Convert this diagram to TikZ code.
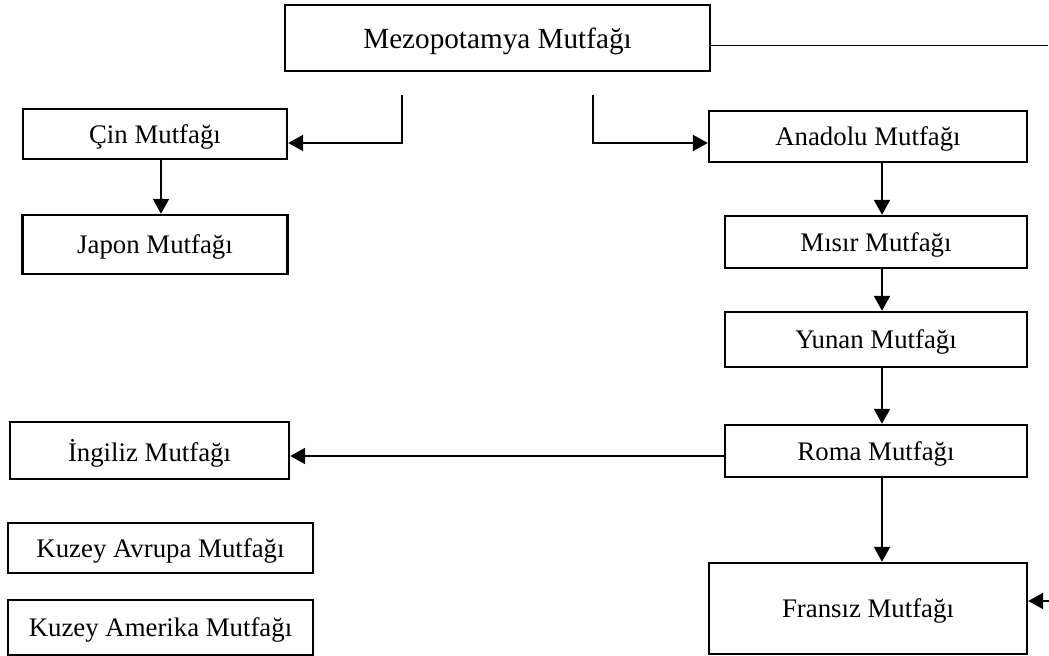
\documentclass[tikz,border=0pt]{standalone}
\usepackage{fontspec}
\setmainfont{Liberation Serif}
\usepackage{tikz}
\usetikzlibrary{arrows.meta, positioning, calc}

\tikzset{
  mutfak/.style={draw, line width=1.2pt, minimum width=#1, align=center, inner sep=0pt, text depth=0pt, font=\fontsize{13.4pt}{16pt}\selectfont},
  akis/.style={line width=1.1pt, -{Triangle[length=7.5pt, width=8pt]}},
}

\begin{document}
\begin{tikzpicture}[x=0.5pt, y=-0.5pt]
  \useasboundingbox (0,0) rectangle (1049,656);

  \node[mutfak=212.5pt, minimum height=33pt, font=\fontsize{14.6pt}{17pt}\selectfont] (Mezopotamya) at (497.5,38) {Mezopotamya Mutfağı};

  \node[mutfak=132pt, minimum height=25pt] (Cin) at (155,134) {Çin Mutfağı};
  \node[mutfak=132.5pt, minimum height=29.5pt] (Japon) at (155,244.5) {Japon Mutfağı};

  \node[mutfak=159pt, minimum height=25.5pt] (Anadolu) at (868,136.5) {Anadolu Mutfağı};
  \node[mutfak=151pt, minimum height=26pt] (Misir) at (876,242) {Mısır Mutfağı};
  \node[mutfak=151pt, minimum height=27.5pt] (Yunan) at (876,339.5) {Yunan Mutfağı};
  \node[mutfak=151pt, minimum height=26pt] (Roma) at (876,451) {Roma Mutfağı};
  \node[mutfak=159pt, minimum height=45.5pt] (Fransiz) at (868,608.5) {Fransız Mutfağı};

  \node[mutfak=139.5pt, minimum height=28.5pt] (Ingiliz) at (149.5,450.5) {İngiliz Mutfağı};
  \node[mutfak=152.5pt, minimum height=25pt] (KuzeyAvrupa) at (160.5,548) {Kuzey Avrupa Mutfağı};
  \node[mutfak=152.5pt, minimum height=27.5pt] (KuzeyAmerika) at (160.5,627.5) {Kuzey Amerika Mutfağı};

  % free ends
  \coordinate (solUc) at (402,95);
  \coordinate (sagUc) at (593,95);
  \coordinate (hat) at (882,0);
  \coordinate (cizgiSon) at (1048,46);
  \coordinate (fransizGiris) at (1049,601);

  \draw[line width=0.5pt] (Mezopotamya.east |- cizgiSon) -- (cizgiSon);
  \draw[akis] (solUc) |- ([yshift=-4.5pt]Cin.east);
  \draw[akis] (sagUc) |- ([yshift=-3.25pt]Anadolu.west);
  \draw[akis] ([xshift=3pt]Cin.south) -- ([xshift=3pt]Japon.north);

  \draw[akis] (Anadolu.south -| hat) -- (Misir.north -| hat);
  \draw[akis] (Misir.south -| hat) -- (Yunan.north -| hat);
  \draw[akis] (Yunan.south -| hat) -- (Roma.north -| hat);
  \draw[akis] (Roma.south -| hat) -- (Fransiz.north -| hat);
  \draw[akis] ([yshift=-2.5pt]Roma.west) -- ([yshift=-2.5pt]Roma.west -| Ingiliz.east);
  \draw[akis] (fransizGiris) -- (fransizGiris -| Fransiz.east);
\end{tikzpicture}
\end{document}
